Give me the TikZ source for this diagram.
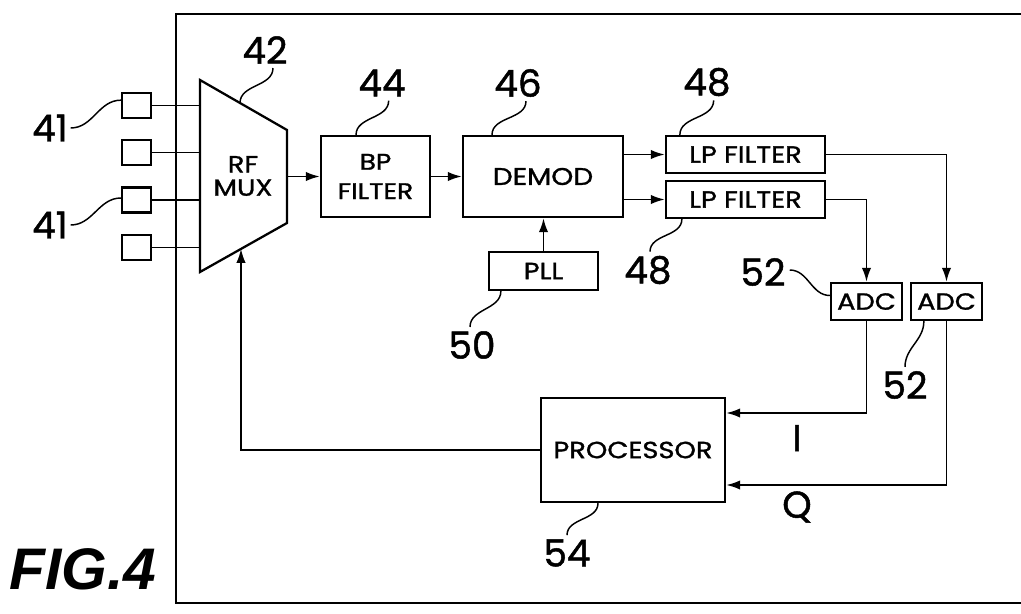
\documentclass[tikz,border=0pt]{standalone}
\usepackage{fontspec}
\setmainfont{Poppins}
\newfontfamily\boxfont{Poppins}[FakeStretch=1.17,FakeBold=1.3]
\newfontfamily\numfont{Poppins}[FakeBold=1.3]
\newfontfamily\figfont{Liberation Sans}
\usetikzlibrary{arrows.meta}
\tikzset{
  px/.style={x=0.75pt,y=-0.75pt},
  box/.style={draw, line width=1.7pt, inner sep=0pt, align=center, font=\boxfont\fontsize{17}{22}\selectfont},
  boxb/.style={box, font=\boxfont\fontsize{17.5}{22}\selectfont},
  ant/.style={draw, line width=1.6pt, minimum width=21.75pt, minimum height=18.75pt, inner sep=0pt},
  wire/.style={line width=1.4pt},
  sig/.style={wire, -{Latex[length=10.5pt,width=7pt]}},
  lead/.style={line width=1.1pt},
  num/.style={inner sep=0pt, font=\numfont\fontsize{28}{30}\selectfont},
  frame/.style={line width=1.9pt}
}
\begin{document}
\begin{tikzpicture}[px]
\useasboundingbox (0,0) rectangle (1021,614);
% outer frame (right side cut off)
\draw[frame] (1025,14) -- (176,14) -- (176,603) -- (1025,603);
% antennas
\node[ant] (a1) at (136.5,105.5) {};
\node[ant] (a2) at (136.5,152.5) {};
\node[ant] (a3) at (136.5,200) {};
\node[ant] (a4) at (136.5,247.5) {};
% RF MUX trapezoid
\coordinate (muxTL) at (200,80);
\coordinate (muxBL) at (200,272);
\coordinate (muxTR) at (287,130);
\coordinate (muxBR) at (287,223);
\coordinate (muxfb) at (241,248.8);
\coordinate (mux42) at (240,103);
\draw[line width=1.7pt, line join=miter] (muxTL) -- (muxTR) -- (muxBR) -- (muxBL) -- cycle;
\node[align=center, inner sep=0pt, font=\boxfont\fontsize{17.5}{17.5}\selectfont] (mux) at (243,176) {RF\\MUX};
\foreach \a in {a1,a2,a3,a4}{\draw[wire] (\a.east) -- (\a.east -| muxTL);}
% blocks
\node[box, minimum width=81.75pt, minimum height=60.75pt] (bp) at (375.5,176.5) {BP\\FILTER};
\node[box, minimum width=120pt, minimum height=60.75pt, font=\boxfont\fontsize{18}{22}\selectfont] (demod) at (543,176.5) {DEMOD};
\node[boxb, minimum width=81.75pt, minimum height=28.5pt] (pll) at (543.5,271) {PLL};
\node[boxb, minimum width=119.25pt, minimum height=27.75pt] (lp1) at (745.5,154.5) {LP FILTER};
\node[boxb, minimum width=119.25pt, minimum height=27.75pt] (lp2) at (745.5,199.5) {LP FILTER};
\node[boxb, minimum width=53.25pt, minimum height=27.75pt] (adc1) at (866.5,301.5) {ADC};
\node[boxb, minimum width=53.25pt, minimum height=27.75pt] (adc2) at (946.5,301.5) {ADC};
\node[boxb, minimum width=138pt, minimum height=78pt] (proc) at (633,450) {PROCESSOR};
% connectors
\draw[sig] (bp.west -| muxTR) -- (bp.west);
\draw[sig] (bp.east) -- (demod.west);
\draw[sig] (pll.north) -- (pll.north |- demod.south);
\draw[sig] (lp1.west -| demod.east) -- (lp1.west);
\draw[sig] (lp2.west -| demod.east) -- (lp2.west);
\draw[sig] (lp1.east) -| (adc2.north);
\draw[sig] (lp2.east) -| (adc1.north);
\draw[sig] (adc1.south) |- ([yshift=27.75pt]proc.east);
\draw[sig] (adc2.south) |- ([yshift=-26.25pt]proc.east);
\draw[sig] (proc.west) -| (muxfb);
% I / Q
\node[num] (lI) at (797,438) {I};
\node[num] (lQ) at (797,507) {Q};
% reference numerals and leaders
\node[num] (l41a) at (50,128) {41};
\node[num] (l41b) at (50,225) {41};
\node[num] (l42) at (265,50) {42};
\node[num] (l44) at (382,83) {44};
\node[num] (l46) at (518,83) {46};
\node[num] (l48a) at (707,82) {48};
\node[num] (l48b) at (648,270) {48};
\node[num] (l50) at (472,345) {50};
\node[num] (l52a) at (763,272) {52};
\node[num] (l52b) at (905,385) {52};
\node[num] (l54) at (567,553) {54};
\draw[lead] ([xshift=2pt]l41a.east) to[out=0,in=180] ([yshift=4pt]a1.west);
\draw[lead] ([xshift=2pt]l41b.east) to[out=0,in=180] ([yshift=1.5pt]a3.west);
\draw[lead] ([xshift=6pt,yshift=-3pt]l42.south) to[out=-90,in=90] (mux42);
\draw[lead] ([xshift=5pt,yshift=-3pt]l44.south) to[out=-90,in=90] ([xshift=-14.6pt]bp.north);
\draw[lead] ([xshift=6pt,yshift=-3pt]l46.south) to[out=-90,in=90] ([xshift=-38.25pt]demod.north);
\draw[lead] ([xshift=5pt,yshift=-3pt]l48a.south) to[out=-90,in=90] ([xshift=11.25pt]lp1.north west);
\draw[lead] ([xshift=1.5pt,yshift=3pt]l48b.north) to[out=90,in=-90] ([xshift=12.75pt]lp2.south west);
\draw[lead] ([xshift=-1.5pt,yshift=3pt]l50.north) to[out=90,in=-90] ([xshift=9.75pt]pll.south west);
\draw[lead] ([xshift=3pt,yshift=1.5pt]l52a.east) to[out=0,in=180] ([yshift=4.5pt]adc1.west);
\draw[lead] ([yshift=3pt]l52b.north) to[out=90,in=-90] ([xshift=10.5pt]adc2.south west);
\draw[lead] ([yshift=3pt]l54.north) to[out=90,in=-90] ([xshift=-26.25pt]proc.south);
% figure caption
\node[inner sep=0pt, font=\figfont\bfseries\itshape\fontsize{44}{46}\selectfont] (fig) at (83,569) {FIG.4};
\end{tikzpicture}
\end{document}
